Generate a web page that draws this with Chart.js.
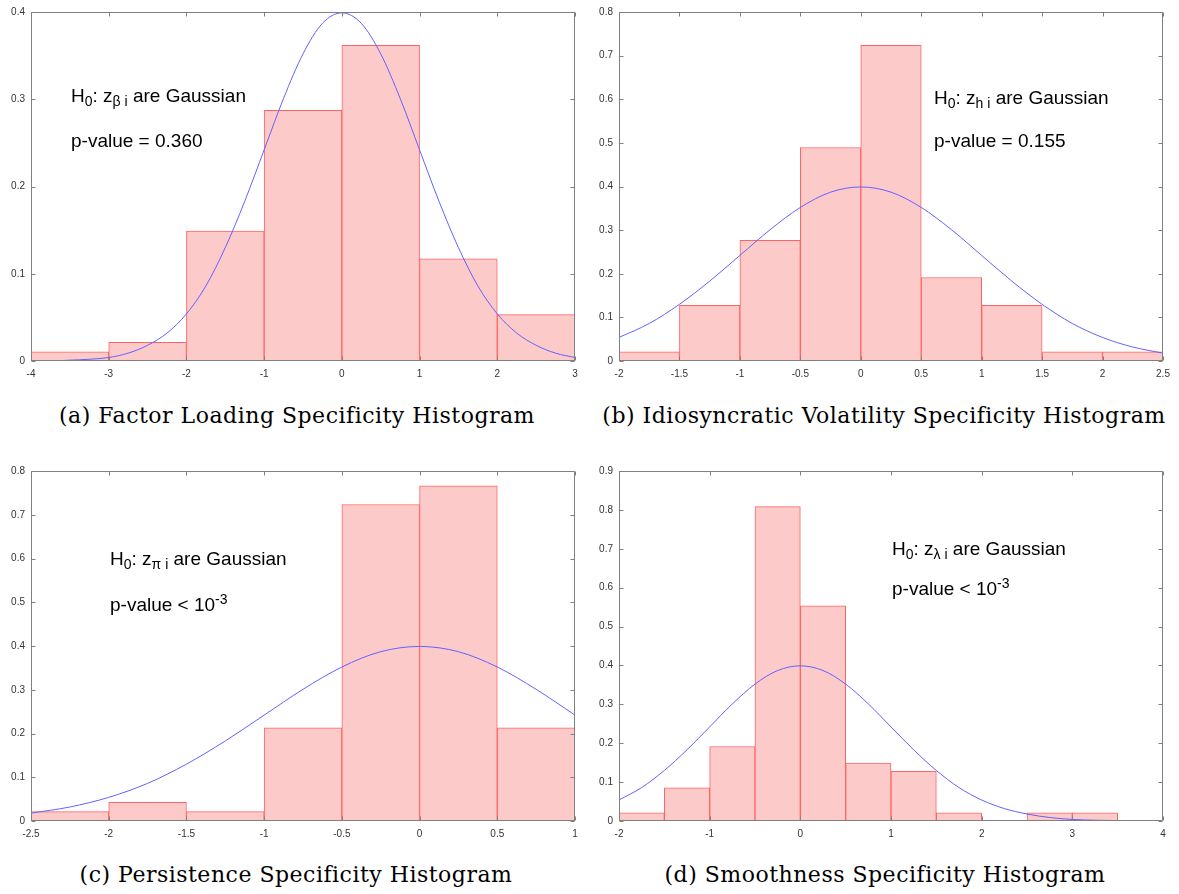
<!DOCTYPE html>
<html>
<head>
<meta charset="utf-8">
<script src="https://cdn.jsdelivr.net/npm/chart.js@4.4.1/dist/chart.umd.min.js"></script>
<style>
  body { margin: 0; background: #fff; width: 1179px; height: 894px; position: relative; overflow: hidden; }
  canvas { position: absolute; }
  .note { position: absolute; font-family: "Liberation Sans", Arial, sans-serif; font-size: 19px; line-height: 19px; color: #000; white-space: nowrap; }
  .note .sb { font-size: 14px; position: relative; top: 4px; }
  .note .sp { font-size: 14px; position: relative; top: -7px; }
  .caption { position: absolute; font-family: "DejaVu Serif", serif; font-size: 22px; line-height: 22px; letter-spacing: 0.5px; color: #000; white-space: nowrap; transform: translateX(-50%); }
</style>
</head>
<body>
<canvas id="hist-a" style="left:0px;top:0px"></canvas>
<canvas id="hist-b" style="left:590px;top:0px"></canvas>
<canvas id="hist-c" style="left:0px;top:450px"></canvas>
<canvas id="hist-d" style="left:590px;top:450px"></canvas>

<div class="note" style="left:71px;top:86px">H<span class="sb">0</span>: z<span class="sb">β i</span> are Gaussian</div>
<div class="note" style="left:71px;top:131px">p-value = 0.360</div>
<div class="note" style="left:934px;top:88px">H<span class="sb">0</span>: z<span class="sb">h i</span> are Gaussian</div>
<div class="note" style="left:934px;top:131px">p-value = 0.155</div>
<div class="note" style="left:110px;top:549px">H<span class="sb">0</span>: z<span class="sb">π i</span> are Gaussian</div>
<div class="note" style="left:110px;top:595px">p-value &lt; 10<span class="sp">-3</span></div>
<div class="note" style="left:892px;top:539px">H<span class="sb">0</span>: z<span class="sb">λ i</span> are Gaussian</div>
<div class="note" style="left:892px;top:579px">p-value &lt; 10<span class="sp">-3</span></div>

<div class="caption" style="left:297px;top:405px">(a) Factor Loading Specificity Histogram</div>
<div class="caption" style="left:884px;top:405px">(b) Idiosyncratic Volatility Specificity Histogram</div>
<div class="caption" style="left:296px;top:864px">(c) Persistence Specificity Histogram</div>
<div class="caption" style="left:885px;top:864px">(d) Smoothness Specificity Histogram</div>

<script>
// bin edges and densities (count / (N * bin width))
let edgesA = [-4, -3, -2, -1, 0, 1, 2, 3];
let densA = [0.0106, 0.0213, 0.1489, 0.2872, 0.3617, 0.1170, 0.0532];

let edgesB = [-2, -1.5, -1, -0.5, 0, 0.5, 1, 1.5, 2, 2.5];
let densB = [0.0213, 0.1277, 0.2766, 0.4894, 0.7234, 0.1915, 0.1277, 0.0213, 0.0213];

let edgesC = [-2.5, -2, -1.5, -1, -0.5, 0, 0.5, 1];
let densC = [0.0213, 0.0426, 0.0213, 0.2128, 0.7234, 0.7660, 0.2128];

let edgesD = [-2, -1.5, -1, -0.5, 0, 0.5, 1, 1.5, 2, 2.5, 3, 3.5];
let densD = [0.0213, 0.0851, 0.1915, 0.8085, 0.5532, 0.1489, 0.1277, 0.0213, 0, 0.0213, 0.0213];

// the blue reference curve, read at 0.25 steps
let curveX = [-4, -3.75, -3.5, -3.25, -3, -2.75, -2.5, -2.25, -2, -1.75, -1.5, -1.25, -1, -0.75, -0.5, -0.25,
  0, 0.25, 0.5, 0.75, 1, 1.25, 1.5, 1.75, 2, 2.25, 2.5, 2.75, 3, 3.25, 3.5, 3.75, 4];
let curveY = [0.000, 0.000, 0.001, 0.002, 0.004, 0.009, 0.018, 0.032, 0.054, 0.086, 0.130, 0.183, 0.242, 0.301, 0.352, 0.387,
  0.399, 0.387, 0.352, 0.301, 0.242, 0.183, 0.130, 0.086, 0.054, 0.032, 0.018, 0.009, 0.004, 0.002, 0.001, 0.000, 0.000];

let xTicksA = [-4, -3, -2, -1, 0, 1, 2, 3];
let xTicksB = [-2, -1.5, -1, -0.5, 0, 0.5, 1, 1.5, 2, 2.5];
let xTicksC = [-2.5, -2, -1.5, -1, -0.5, 0, 0.5, 1];
let xTicksD = [-2, -1, 0, 1, 2, 3, 4];
let yTicksA = [0, 0.1, 0.2, 0.3, 0.4];
let yTicksB = [0, 0.1, 0.2, 0.3, 0.4, 0.5, 0.6, 0.7, 0.8];
let yTicksC = [0, 0.1, 0.2, 0.3, 0.4, 0.5, 0.6, 0.7, 0.8];
let yTicksD = [0, 0.1, 0.2, 0.3, 0.4, 0.5, 0.6, 0.7, 0.8, 0.9];

Chart.defaults.font.family = '"Liberation Sans", Arial, sans-serif';
Chart.defaults.font.size = 10;
Chart.defaults.color = '#333';

// box frame with ticks pointing inwards on all four sides
let framePlugin = {
  id: 'frame',
  afterDatasetsDraw: function(chart) {
    let ctx = chart.ctx;
    let a = chart.chartArea;
    let l = Math.round(a.left) + 0.5, r = Math.round(a.right) - 0.5;
    let t = Math.round(a.top) + 0.5, b = Math.round(a.bottom) - 0.5;
    ctx.save();
    ctx.strokeStyle = '#808080';
    ctx.lineWidth = 1;
    ctx.beginPath();
    ctx.rect(l, t, r - l, b - t);
    chart.scales.x.ticks.forEach(tk => {
      let px = Math.round(chart.scales.x.getPixelForValue(tk.value)) + 0.5;
      ctx.moveTo(px, t); ctx.lineTo(px, t + 4);
      ctx.moveTo(px, b); ctx.lineTo(px, b - 4);
    });
    chart.scales.y.ticks.forEach(tk => {
      let py = Math.round(chart.scales.y.getPixelForValue(tk.value)) + 0.5;
      ctx.moveTo(l, py); ctx.lineTo(l + 4, py);
      ctx.moveTo(r, py); ctx.lineTo(r - 4, py);
    });
    ctx.stroke();
    ctx.restore();
  }
};

let makePanel = function(canvasId, p) {
  let canvas = document.getElementById(canvasId);
  canvas.width = p.width;
  canvas.height = p.height;
  canvas.style.width = p.width + 'px';
  canvas.style.height = p.height + 'px';

  let bars = [];
  for (let i = 0; i < p.dens.length; ++i) {
    bars.push({x: (p.edges[i] + p.edges[i + 1]) / 2, y: p.dens[i]});
  }
  let curve = [];
  for (let i = 0; i < curveX.length; ++i) {
    if (curveX[i] >= p.curveFrom && curveX[i] <= p.curveTo) {
      curve.push({x: curveX[i], y: curveY[i]});
    }
  }

  return new Chart(canvas.getContext('2d'), {
    type: 'bar',
    data: {
      datasets: [{
        type: 'line',
        data: curve,
        borderColor: '#6262ff',
        borderWidth: 1,
        pointRadius: 0,
        cubicInterpolationMode: 'monotone',
        order: 0
      }, {
        type: 'bar',
        data: bars,
        backgroundColor: '#fdcaca',
        borderColor: '#ff6464',
        borderWidth: 1,
        borderSkipped: false,
        barPercentage: 1,
        categoryPercentage: 1,
        grouped: false,
        order: 1
      }]
    },
    options: {
      responsive: false,
      animation: false,
      events: [],
      layout: { padding: { left: 0, top: p.padTop, right: p.padRight, bottom: 5 } },
      plugins: { legend: { display: false }, tooltip: { enabled: false } },
      scales: {
        x: {
          type: 'linear',
          offset: false,
          min: p.xTicks[0],
          max: p.xTicks[p.xTicks.length - 1],
          grid: { display: false, drawTicks: false },
          border: { display: false },
          ticks: { padding: 7, maxRotation: 0, autoSkip: false, callback: v => String(v) },
          afterBuildTicks: s => { s.ticks = p.xTicks.map(v => ({value: v})); },
          afterFit: s => { s.height = 19; }
        },
        y: {
          min: 0,
          max: p.yTicks[p.yTicks.length - 1],
          grid: { display: false, drawTicks: false },
          border: { display: false },
          ticks: { padding: 6, autoSkip: false, callback: v => String(v) },
          afterBuildTicks: s => { s.ticks = p.yTicks.map(v => ({value: v})); },
          afterFit: s => { s.width = p.axisWidth; }
        }
      }
    },
    plugins: [framePlugin]
  });
};

makePanel('hist-a', { width: 590, height: 385, padTop: 11, padRight: 15, axisWidth: 31,
  edges: edgesA, dens: densA, xTicks: xTicksA, yTicks: yTicksA, curveFrom: -4, curveTo: 3 });
makePanel('hist-b', { width: 589, height: 385, padTop: 11, padRight: 16, axisWidth: 29,
  edges: edgesB, dens: densB, xTicks: xTicksB, yTicks: yTicksB, curveFrom: -2, curveTo: 2.5 });
makePanel('hist-c', { width: 590, height: 395, padTop: 21, padRight: 15, axisWidth: 31,
  edges: edgesC, dens: densC, xTicks: xTicksC, yTicks: yTicksC, curveFrom: -2.5, curveTo: 1 });
makePanel('hist-d', { width: 589, height: 395, padTop: 21, padRight: 16, axisWidth: 29,
  edges: edgesD, dens: densD, xTicks: xTicksD, yTicks: yTicksD, curveFrom: -2, curveTo: 3.5 });
</script>
</body>
</html>
